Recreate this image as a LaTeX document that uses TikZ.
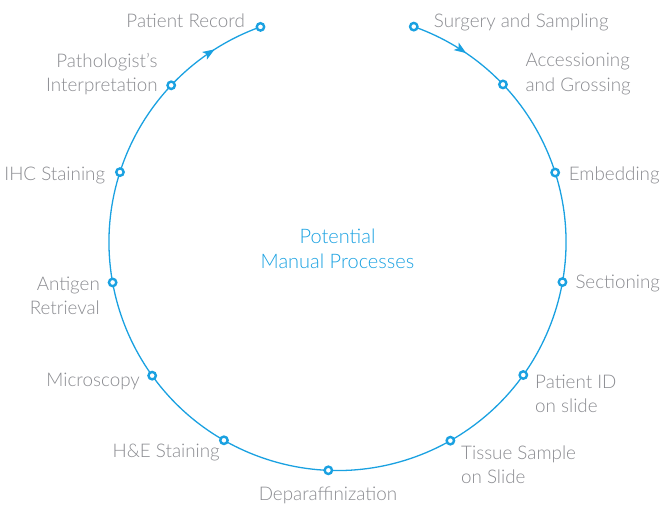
\documentclass[tikz,border=0pt]{standalone}
\usepackage{fontspec}
\IfFontExistsTF{Lato Light}{\setmainfont{Lato Light}}{\setmainfont{Lato}}
\usetikzlibrary{arrows.meta,decorations.markings,calc}
\definecolor{cblue}{HTML}{1AA1E1}
\definecolor{tgray}{HTML}{8A8B90}
\begin{document}
\begin{tikzpicture}[x=1pt,y=1pt,
  >={Stealth[length=12pt,width=9pt,inset=3pt]},
  lbl/.style={text=tgray, font=\fontsize{18.8}{24.5}\selectfont, inner sep=0pt},
  ctr/.style={text=cblue, font=\fontsize{20}{25}\selectfont, inner sep=0pt, align=center},
  dot/.style={circle, draw=cblue, fill=white, line width=2.4pt, minimum size=7.4pt, inner sep=0pt},
  ring/.style={cblue, line width=1.3pt}]
\useasboundingbox (0,0) rectangle (662,-506);
\coordinate (C) at (337.5,-242);
\draw[ring, postaction={decorate}, decoration={markings,
   mark=at position 0.046 with {\arrow{>}},
   mark=at position 0.960 with {\arrow{>}}}]
  ([shift={(70.5:228.5)}]C) arc[start angle=70.5, end angle=-250.3, radius=228.5];
% dots
\node[dot] (surgery) at ([shift={(70.5:228.5)}]C) {};
\node[dot] (access) at ([shift={(43.6:228.5)}]C) {};
\node[dot] (embed) at ([shift={(17.7:228.5)}]C) {};
\node[dot] (section) at ([shift={(-10.1:228.5)}]C) {};
\node[dot] (pid) at ([shift={(-35.6:228.5)}]C) {};
\node[dot] (tissue) at ([shift={(-60.4:228.5)}]C) {};
\node[dot] (depar) at ([shift={(-92.3:228.5)}]C) {};
\node[dot] (he) at ([shift={(-119.8:228.5)}]C) {};
\node[dot] (micro) at ([shift={(-144.2:228.5)}]C) {};
\node[dot] (antigen) at ([shift={(-169.8:228.5)}]C) {};
\node[dot] (ihc) at ([shift={(162.2:228.5)}]C) {};
\node[dot] (path) at ([shift={(136.7:228.5)}]C) {};
\node[dot] (record) at ([shift={(109.7:228.5)}]C) {};
% labels
\node[lbl, anchor=base west] (tsurgery) at (433.7,-27.3) {Surgery and Sampling};
\node[lbl, anchor=west, align=left] (taccess) at (525.3,-74.2) {Accessioning\\and Grossing};
\node[lbl, anchor=base west] (tembed) at (568.7,-180) {Embedding};
\node[lbl, anchor=base west] (tsection) at (575.3,-288.3) {Sectioning};
\node[lbl, anchor=west, align=left] (tpid) at (535,-393.8) {Patient ID\\on slide};
\node[lbl, anchor=west, align=left] (ttissue) at (461,-464.7) {Tissue Sample\\on Slide};
\node[lbl, anchor=base] (tdepar) at (328,-500) {Deparaffinization};
\node[lbl, anchor=base east] (the) at (220,-457.3) {H\&E Staining};
\node[lbl, anchor=base east] (tmicro) at (140,-386.7) {Microscopy};
\node[lbl, anchor=east, align=right] (tantigen) at (100,-295.8) {Antigen\\Retrieval};
\node[lbl, anchor=base east] (tihc) at (105.3,-180) {IHC Staining};
\node[lbl, anchor=east, align=right] (tpath) at (157.7,-74.2) {Pathologist’s\\Interpretation};
\node[lbl, anchor=base east] (trecord) at (245,-27.3) {Patient Record};
\node[ctr] (center) at (337.5,-248.8) {Potential\\Manual Processes};
\end{tikzpicture}
\end{document}
